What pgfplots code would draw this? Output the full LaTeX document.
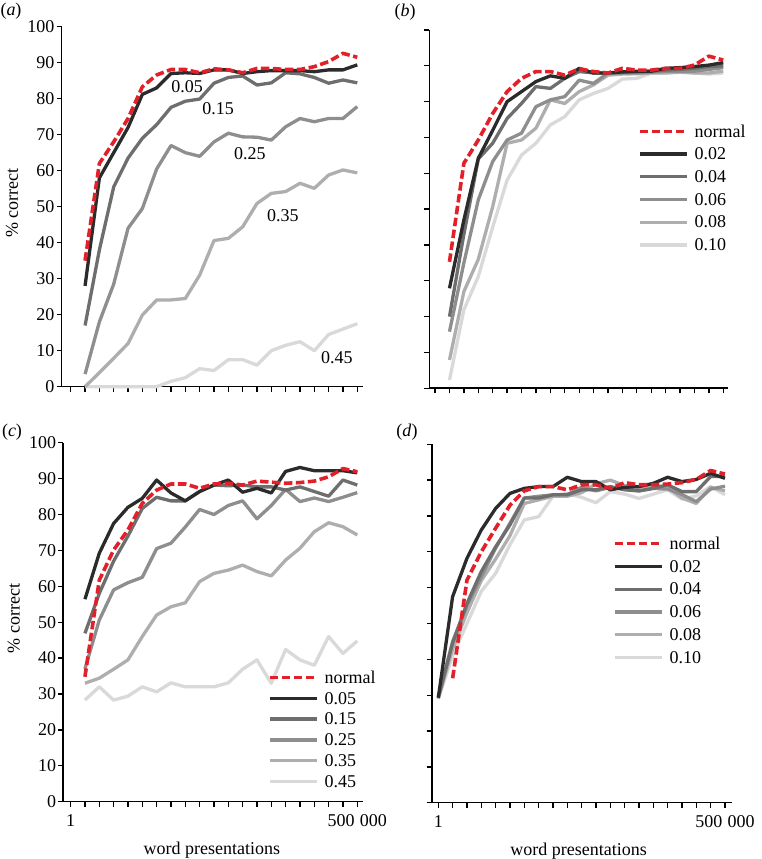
\documentclass[border=0pt]{standalone}
\usepackage{pgfplots}
\pgfplotsset{compat=1.18}
\usepackage{pgfplotstable}
\usepackage{fontspec}
\setmainfont{Liberation Serif}

\definecolor{cA}{HTML}{2B2B2B}
\definecolor{cB}{HTML}{6E6E6E}
\definecolor{cC}{HTML}{8E8E8E}
\definecolor{cD}{HTML}{AEAEAE}
\definecolor{cE}{HTML}{D9D9D9}
\definecolor{cR}{HTML}{E2202A}

\newcommand\tf{\fontsize{18}{18}\selectfont}

\pgfplotstableread{
i n a b c d e
1 35 28 17 3.5 0 0
2 62 58 38 18 3.9 0
3 68 65 55.5 28.5 7.9 0
4 74.5 72 63.5 44 12 0
5 83.3 81.2 69 49.5 19.9 0
6 86.6 83 72.8 60.5 24.1 0
7 88.1 87 77.6 67 24.1 1.5
8 88.1 87.2 79.3 65 24.5 2.5
9 87.2 87 79.9 64 31 5
10 88.3 88 84.3 68 40.6 4.5
11 88 88 85.9 70.4 41.2 7.5
12 87.2 87 86.3 69.4 44.4 7.5
13 88.4 87.5 83.8 69.3 50.9 6
14 88.4 87.8 84.4 68.5 53.7 10
15 88.1 87.8 87.2 72.2 54.2 11.5
16 88.1 87.8 86.9 74.5 56.5 12.5
17 88.9 87.5 85.9 73.6 55.1 10
18 90.3 88 84.3 74.5 58.8 14.5
19 92.6 88 85.2 74.5 60.2 16
20 91.5 89.4 84.4 77.8 59.4 17.5
}\tA

\pgfplotstableread{
i n a b c d e
1 35.3 27.9 20 15.8 7.9 2.3
2 62.8 47 43 35 27 21.9
3 69.3 64.2 64 52.6 36 31.2
4 76.7 72 68.4 63.3 50.7 45
5 82.8 80 75.3 69.3 68.4 58.1
6 86.5 82.8 79.5 71.2 69.3 65.1
7 88.4 85.6 84.2 78.6 72.6 68.4
8 88.4 87.2 83.7 80.5 80.5 73.5
9 87.4 86.5 86.5 81.4 79.5 75.8
10 89.2 89.3 88.4 86 82.8 80.5
11 88.4 88 88 85.1 84.7 82.3
12 88 88 88 88 87.4 83.7
13 89.3 88.3 88.2 88 87.7 86.3
14 88.8 88.5 88.3 88 87.8 86.5
15 88.8 88.5 88.5 88.2 88 88
16 89.3 89.3 88.8 88.5 88 88
17 89.3 89.5 89 88.5 88.2 88.4
18 90.2 89.8 89.3 88.5 88 88
19 92.7 90.2 89.8 89 88 87.7
20 91.6 90.9 90 89.5 88.5 88
}\tB

\pgfplotstableread{
i n a b c d e
1 34.8 56.4 46.9 37 33 28.3
2 61.7 69.2 58 50.6 34.4 32
3 70.1 77.5 67 59 36.9 28.3
4 75.7 82 74 61 39.5 29.4
5 83.1 84.5 81.7 62.5 46 32
6 86.8 89.6 84.8 70.5 52 30.6
7 88.5 86 83.8 72 54.3 33.1
8 88.5 83.8 83.8 76.5 55.4 32
9 87.3 86.4 86.4 81.4 61.3 32
10 88.5 88.2 88.2 80 63.6 32
11 88.7 89.6 88 82.5 64.5 33.1
12 88.2 86.2 88.2 83.8 65.9 36.9
13 89.3 87.3 87.7 78.8 64.1 39.5
14 89 86 87.7 82.5 62.9 33
15 88.7 92 86.8 87 67.3 42.4
16 88.9 93.1 87.7 83.6 70.6 39.5
17 89.3 92.2 86.4 84.6 75.2 38
18 90.5 92.2 85.1 83.6 77.7 46
19 92.8 92.2 89.6 84.8 76.6 41.3
20 91.9 91.6 88.2 86.1 74.3 44.8
}\tC

\pgfplotstableread{
i n a b c d e
0 nan 29.3 29.5 29.5 29 29
1 34.7 57.5 44.5 45 43 41
2 62.1 68.2 55.6 55 53 50
3 70 76.1 64.5 63 62 59
4 76.6 82.1 71.4 71 68 64
5 83 86.3 77.5 78 74.5 72
6 87 87.7 85 85 83.5 78.9
7 88.2 88.2 85 85.5 84.5 79.8
8 88.2 88.2 85.9 85.9 85.5 85.5
9 87.3 90.8 85.9 86 85.5 86.3
10 88.7 89.6 87.3 88 86.5 85.2
11 88.7 89.6 87.3 87 89 83.7
12 87.7 87.3 88.2 88 90 86.8
13 89.3 88 87.3 87.5 88.5 86.1
14 88.7 88.2 87 87 88 84.9
15 88.7 89.1 87.7 87.7 88.5 86.1
16 88.9 90.8 88.7 87.5 88 87.3
17 89.3 89.6 86.8 86 85 84.7
18 90.2 90.2 86.8 84 83.5 85.6
19 92.7 91.9 91 87.5 88 88.2
20 91.7 90.5 91 88.3 87 85.9
}\tD

\pgfplotsset{
  panel/.style={scale only axis, clip=false, anchor=south west,
    axis x line*=bottom, axis y line*=left,
    axis line style={-, line width=1.6pt, black},
    ymin=0, ymax=100, ytick={0,10,...,100}, xtick={0,...,20},
    major tick length=5pt, tick align=outside,
    tick style={line width=1.3pt, black},
    every tick label/.append style={font=\tf, inner sep=2pt},
    xticklabel style={yshift=-6pt},
    /pgf/number format/assume math mode=true,
    unbounded coords=jump,
    every axis y label/.style={at={(axis description cs:-0.165,0.51)}, anchor=center, rotate=90, font=\tf},
    every axis x label/.style={at={(axis description cs:0.495,-0.1345)}, anchor=center, font=\tf},
    legend cell align=left,
    legend image code/.code={\draw[##1] (0pt,0pt) -- (47pt,0pt);},
    legend style={draw=none, fill=none, inner sep=0pt, outer sep=0pt, font=\tf,
      column sep=6pt, anchor=north west,
      nodes={inner sep=0pt, text height=11.5pt, text depth=0pt}},
  },
  sA/.style={cA, line width=3.3pt, line join=round},
  sB/.style={cB, line width=3.3pt, line join=round},
  sC/.style={cC, line width=3.3pt, line join=round},
  sD/.style={cD, line width=3.3pt, line join=round},
  sE/.style={cE, line width=3.3pt, line join=round},
  sN/.style={cR, line width=3.6pt, line join=round, dash pattern=on 8.5pt off 3.5pt},
  botx/.style={xticklabels={1,{},{},{},{},{},{},{},{},{},{},{},{},{},{},{},{},{},{},{},500\hspace{0.3em}000}, xlabel={word presentations}},
}

\begin{document}
\begin{tikzpicture}[x=1pt,y=1pt]
\useasboundingbox (0pt,0pt) rectangle (761pt,859pt);

% (a)
\begin{axis}[panel, at={(61.7pt,472.3pt)}, width=301.6pt, height=360pt,
  xmin=-0.63, xmax=20.42, xticklabels={}, ylabel={\% correct}]
\addplot[sE, forget plot] table[x=i,y=e] {\tA};
\addplot[sD, forget plot] table[x=i,y=d] {\tA};
\addplot[sC, forget plot] table[x=i,y=c] {\tA};
\addplot[sB, forget plot] table[x=i,y=b] {\tA};
\addplot[sA, forget plot] table[x=i,y=a] {\tA};
\addplot[sN, forget plot] table[x=i,y=n] {\tA};
\node[font=\tf] at (axis cs:8.12,83.3) {0.05};
\node[font=\tf] at (axis cs:10.28,77.1) {0.15};
\node[font=\tf] at (axis cs:12.51,64.6) {0.25};
\node[font=\tf] at (axis cs:14.81,47.4) {0.35};
\node[font=\tf] at (axis cs:18.58,8.0) {0.45};
\end{axis}

% (b)
\begin{axis}[panel, at={(429.3pt,470.7pt)}, width=299pt, height=358.3pt,
  xmin=-0.4, xmax=20.35, xticklabels={}, yticklabels={},
  legend style={at={(0.698,0.733)}, row sep=11.2pt}]
\addplot[sE, forget plot] table[x=i,y=e] {\tB};
\addplot[sD, forget plot] table[x=i,y=d] {\tB};
\addplot[sC, forget plot] table[x=i,y=c] {\tB};
\addplot[sB, forget plot] table[x=i,y=b] {\tB};
\addplot[sA, forget plot] table[x=i,y=a] {\tB};
\addplot[sN, forget plot] table[x=i,y=n] {\tB};
\addlegendimage{sN}\addlegendentry{normal}
\addlegendimage{sA}\addlegendentry{0.02}
\addlegendimage{sB}\addlegendentry{0.04}
\addlegendimage{sC}\addlegendentry{0.06}
\addlegendimage{sD}\addlegendentry{0.08}
\addlegendimage{sE}\addlegendentry{0.10}
\end{axis}

% (c)
\begin{axis}[panel, botx, at={(63.3pt,57.3pt)}, width=300pt, height=359pt,
  xmin=-0.51, xmax=20.42, ylabel={\% correct},
  legend style={at={(0.6823,0.362)}, row sep=9.3pt}]
\addplot[sE, forget plot] table[x=i,y=e] {\tC};
\addplot[sD, forget plot] table[x=i,y=d] {\tC};
\addplot[sC, forget plot] table[x=i,y=c] {\tC};
\addplot[sB, forget plot] table[x=i,y=b] {\tC};
\addplot[sA, forget plot] table[x=i,y=a] {\tC};
\addplot[sN, forget plot] table[x=i,y=n] {\tC};
\addlegendimage{sN}\addlegendentry{normal}
\addlegendimage{sA}\addlegendentry{0.05}
\addlegendimage{sB}\addlegendentry{0.15}
\addlegendimage{sC}\addlegendentry{0.25}
\addlegendimage{sD}\addlegendentry{0.35}
\addlegendimage{sE}\addlegendentry{0.45}
\end{axis}

% (d)
\begin{axis}[panel, botx, at={(431.7pt,56.3pt)}, width=300pt, height=358.4pt,
  xmin=-0.46, xmax=20.47, yticklabels={},
  every axis x label/.style={at={(axis description cs:0.49,-0.1345)}, anchor=center, font=\tf},
  legend style={at={(0.604,0.739)}, row sep=11.3pt}]
\addplot[sE, forget plot] table[x=i,y=e] {\tD};
\addplot[sD, forget plot] table[x=i,y=d] {\tD};
\addplot[sC, forget plot] table[x=i,y=c] {\tD};
\addplot[sB, forget plot] table[x=i,y=b] {\tD};
\addplot[sA, forget plot] table[x=i,y=a] {\tD};
\addplot[sN, forget plot] table[x=i,y=n] {\tD};
\addlegendimage{sN}\addlegendentry{normal}
\addlegendimage{sA}\addlegendentry{0.02}
\addlegendimage{sB}\addlegendentry{0.04}
\addlegendimage{sC}\addlegendentry{0.06}
\addlegendimage{sD}\addlegendentry{0.08}
\addlegendimage{sE}\addlegendentry{0.10}
\end{axis}

\node[font=\tf] at (11pt,848pt) {(\textit{a})};
\node[font=\tf] at (405pt,847pt) {(\textit{b})};
\node[font=\tf] at (12pt,427pt) {(\textit{c})};
\node[font=\tf] at (407pt,427pt) {(\textit{d})};
\end{tikzpicture}
\end{document}
